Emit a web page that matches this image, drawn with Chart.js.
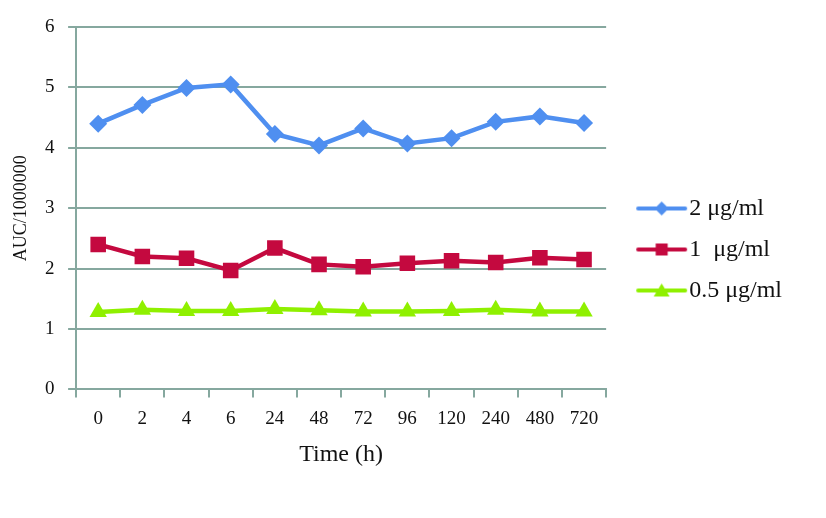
<!DOCTYPE html>
<html>
<head>
<meta charset="utf-8">
<script src="https://cdn.jsdelivr.net/npm/chart.js@4/dist/chart.umd.min.js"></script>
<style>
  html, body { margin: 0; padding: 0; background: #fff; }
  #wrap { width: 826px; height: 518px; }
</style>
</head>
<body>
<div id="wrap"><canvas id="aucChart" width="826" height="518"></canvas></div>
<script>
const timeLabels = ['0', '2', '4', '6', '24', '48', '72', '96', '120', '240', '480', '720']
const conc2 = [4.40, 4.71, 4.99, 5.05, 4.23, 4.04, 4.32, 4.07, 4.16, 4.43, 4.52, 4.41]
const conc1 = [2.40, 2.20, 2.17, 1.97, 2.34, 2.07, 2.03, 2.09, 2.13, 2.10, 2.18, 2.15]
const conc05 = [1.28, 1.32, 1.30, 1.30, 1.33, 1.31, 1.29, 1.29, 1.30, 1.32, 1.29, 1.29]
const yTicks = [0, 1, 2, 3, 4, 5, 6]

const gridColor = '#86a89f'
const fontFamily = '"Liberation Serif", "DejaVu Serif", serif'
const legendBox = 54

// legend icon: short line with the marker on it (image is centred on the box, so it is twice as wide)
function legendIcon(color, style) {
  const c = document.createElement('canvas')
  c.width = legendBox * 2
  c.height = 20
  const ctx = c.getContext('2d')
  const x0 = legendBox - 12
  const x1 = legendBox + 35
  const mx = (x0 + x1) / 2
  ctx.strokeStyle = color
  ctx.fillStyle = color
  ctx.lineWidth = 4
  ctx.lineCap = 'round'
  ctx.beginPath()
  ctx.moveTo(x0, 10)
  ctx.lineTo(x1, 10)
  ctx.stroke()
  ctx.beginPath()
  if (style === 'diamond') {
    ctx.moveTo(mx, 3); ctx.lineTo(mx + 7, 10); ctx.lineTo(mx, 17); ctx.lineTo(mx - 7, 10)
  } else if (style === 'square') {
    ctx.rect(mx - 6, 4, 12, 12)
  } else {
    ctx.moveTo(mx, 3); ctx.lineTo(mx + 8, 16); ctx.lineTo(mx - 8, 16)
  }
  ctx.closePath()
  ctx.fill()
  return c
}

const series = [
  { label: '2 μg/ml', data: conc2, color: '#4f8ff0', point: 'rectRot', radius: 9, icon: 'diamond' },
  { label: '1  μg/ml', data: conc1, color: '#c4093f', point: 'rect', radius: 11, icon: 'square' },
  { label: '0.5 μg/ml', data: conc05, color: '#8ff000', point: 'triangle', radius: 10, icon: 'triangle' },
]

const ctx = document.getElementById('aucChart').getContext('2d')

new Chart(ctx, {
  type: 'line',
  data: {
    labels: timeLabels,
    datasets: series.map((s) => ({
      label: s.label,
      data: s.data,
      borderColor: s.color,
      backgroundColor: s.color,
      borderWidth: 4.5,
      pointStyle: s.point,
      pointRadius: s.radius,
      pointBorderWidth: 0,
      tension: 0,
      legendIcon: legendIcon(s.color, s.icon),
    })),
  },
  options: {
    responsive: false,
    animation: false,
    layout: { padding: { top: 27, right: 34, bottom: 46, left: 10 } },
    plugins: {
      tooltip: { enabled: false },
      legend: {
        position: 'right',
        labels: {
          usePointStyle: true,
          pointStyleWidth: legendBox,
          color: '#111',
          font: { family: fontFamily, size: 24 },
          padding: 17,
          generateLabels: (chart) =>
            chart.data.datasets.map((d, i) => ({
              text: d.label,
              pointStyle: d.legendIcon,
              datasetIndex: i,
              fontColor: '#111',
              lineWidth: 0,
              strokeStyle: 'transparent',
              fillStyle: d.borderColor,
            })),
        },
      },
    },
    scales: {
      x: {
        offset: true,
        grid: {
          offset: true,
          drawOnChartArea: false,
          drawTicks: true,
          tickLength: 8,
          color: gridColor,
          lineWidth: 2,
        },
        border: { color: gridColor, width: 2 },
        ticks: {
          color: '#111',
          font: { family: fontFamily, size: 19 },
          padding: 10,
          maxRotation: 0,
          autoSkip: false,
        },
        title: {
          display: true,
          text: 'Time (h)',
          color: '#111',
          font: { family: fontFamily, size: 24 },
          padding: { top: 0, bottom: 3 },
        },
      },
      y: {
        min: yTicks[0],
        max: yTicks[yTicks.length - 1],
        afterBuildTicks: (axis) => {
          axis.ticks = yTicks.map((v) => ({ value: v }))
        },
        grid: {
          color: gridColor,
          lineWidth: 2,
          tickLength: 8,
        },
        border: { color: gridColor, width: 2 },
        ticks: {
          color: '#111',
          font: { family: fontFamily, size: 19 },
          padding: 13.5,
        },
        title: {
          display: true,
          text: 'AUC/1000000',
          color: '#111',
          font: { family: fontFamily, size: 18 },
          padding: 0,
        },
      },
    },
  },
})
</script>
</body>
</html>
